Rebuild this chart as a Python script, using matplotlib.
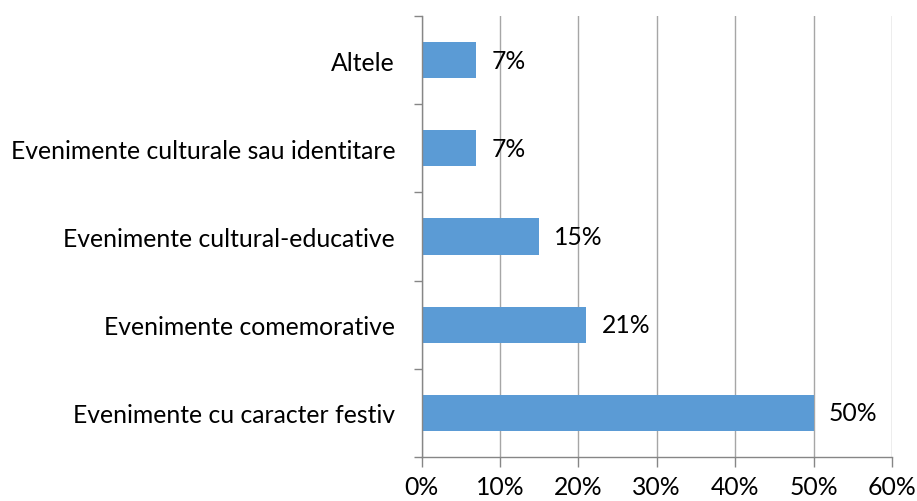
import numpy as np
import matplotlib.pyplot as plt
from matplotlib.ticker import FixedLocator, PercentFormatter

# chart data
categories = ['Evenimente cu caracter festiv', 'Evenimente comemorative',
              'Evenimente cultural-educative',
              'Evenimente culturale sau identitare', 'Altele']
values = [50, 21, 15, 7, 7]
xticks = [0, 10, 20, 30, 40, 50, 60]

plt.rcParams['font.family'] = ['Lato', 'DejaVu Sans']
fs = 17.8

fig = plt.figure(figsize=(9.17, 5.02), dpi=100)
ax = fig.add_axes([0.4597, 0.0876, 0.9727 - 0.4597, 0.966 - 0.0876])

ypos = np.arange(len(categories))
ax.barh(ypos, values, height=0.41, color='#5b9bd5', zorder=3)

# data labels
for y, v in zip(ypos, values):
    ax.annotate('{:d}%'.format(v), xy=(v, y), xytext=(11, 0),
                textcoords='offset points', ha='left', va='center',
                fontsize=fs, color='#000000', zorder=4)

# axes limits and ticks
ax.set_xlim(0, 60)
ax.set_ylim(-0.5, len(categories) - 0.5)
ax.set_xticks(xticks)
ax.xaxis.set_major_formatter(PercentFormatter(decimals=0))
ax.set_yticks(ypos)
ax.set_yticklabels(categories)
ax.yaxis.set_minor_locator(FixedLocator(np.arange(-0.5, len(categories), 1.0)))
ax.tick_params(axis='y', which='major', length=0, pad=19, labelsize=fs)
ax.tick_params(axis='y', which='minor', length=6, width=1, color='#868686')
ax.tick_params(axis='x', length=7, width=1, color='#868686', pad=6,
               labelsize=fs)

# grid and spines
ax.grid(axis='x', color='#a6a6a6', lw=1, zorder=0)
for side in ('top', 'right'):
    ax.spines[side].set_visible(False)
for side in ('left', 'bottom'):
    ax.spines[side].set_color('#868686')
    ax.spines[side].set_linewidth(1)
    ax.spines[side].set_zorder(5)

fig.savefig('out.png', dpi=100)
